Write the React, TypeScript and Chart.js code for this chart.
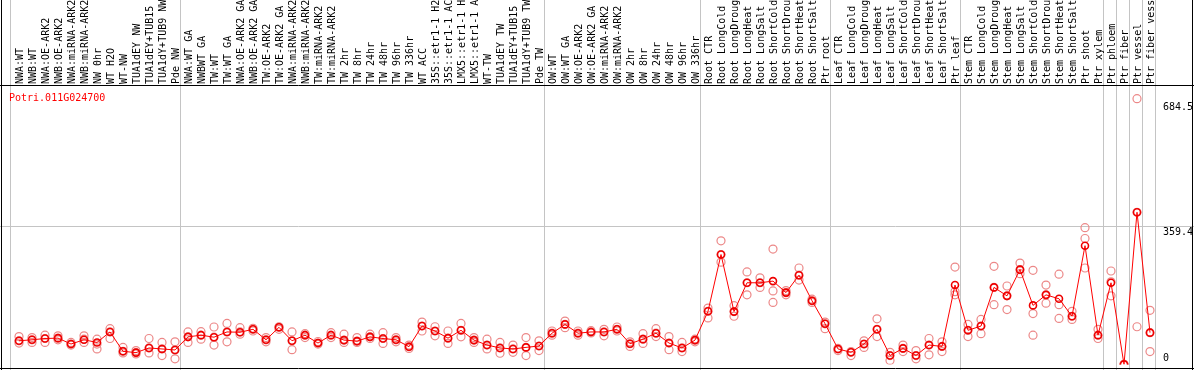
import React, { useEffect, useRef } from "react";
import { Chart, registerables } from "chart.js";

Chart.register(...registerables);

const title = "Potri.011G024700";

const categories = [
  "NWA:WT", "NWB:WT", "NWA:OE-ARK2", "NWB:OE-ARK2", "NWA:miRNA-ARK2", "NWB:miRNA-ARK2", "NW 0hr", "WT H2O", "WT-NW", "TUA1dEY NW", "TUA1dEY+TUB15 NW", "TUA1dY+TUB9 NW", "Pde NW",
  "NWA:WT GA", "NWBWT GA", "TW:WT", "TW:WT GA", "NWA:OE-ARK2 GA", "NWB:OE-ARK2 GA", "TW:OE-ARK2", "TW:OE-ARK2 GA", "NWA:miRNA-ARK2 GA", "NWB:miRNA-ARK2 GA", "TW:miRNA-ARK2", "TW:miRNA-ARK2 GA", "TW 2hr", "TW 8hr", "TW 24hr", "TW 48hr", "TW 96hr", "TW 336hr", "WT ACC", "35S::etr1-1 H2O", "35S::etr1-1 ACC", "LMX5::etr1-1 H2O", "LMX5::etr1-1 ACC", "WT-TW", "TUA1dEY TW", "TUA1dEY+TUB15 TW", "TUA1dY+TUB9 TW", "Pde TW",
  "OW:WT", "OW:WT GA", "OW:OE-ARK2", "OW:OE-ARK2 GA", "OW:miRNA-ARK2", "OW:miRNA-ARK2 GA", "OW 2hr", "OW 8hr", "OW 24hr", "OW 48hr", "OW 96hr", "OW 336hr",
  "Root CTR", "Root LongCold", "Root LongDrought", "Root LongHeat", "Root LongSalt", "Root ShortCold", "Root ShortDrought", "Root ShortHeat", "Root ShortSalt", "Ptr root",
  "Leaf CTR", "Leaf LongCold", "Leaf LongDrought", "Leaf LongHeat", "Leaf LongSalt", "Leaf ShortCold", "Leaf ShortDrought", "Leaf ShortHeat", "Leaf ShortSalt", "Ptr leaf",
  "Stem CTR", "Stem LongCold", "Stem LongDrought", "Stem LongHeat", "Stem LongSalt", "Stem ShortCold", "Stem ShortDrought", "Stem ShortHeat", "Stem ShortSalt", "Ptr shoot", "Ptr xylem",
  "Ptr phloem", "Ptr fiber", "Ptr vessel", "Ptr fiber vessel",
];

const means = [
  61.3, 63.9, 67.2, 68.2, 52.9, 63.9, 57.0, 84.3, 34.0, 30.6, 42.7, 40.1, 37.5,
  71.5, 75.9, 70.7, 84.3, 83.5, 91.2, 63.9, 96.3, 61.3, 75.9, 55.4, 75.9, 63.1, 60.5, 71.5, 67.2, 63.9, 46.0, 99.6, 86.8, 68.2, 88.6, 63.1, 50.3, 42.7, 40.1, 44.2, 47.8,
  81.0, 103.9, 81.0, 84.3, 84.3, 91.2, 53.6, 65.6, 81.0, 55.4, 42.7, 63.1,
  137.9, 285.3, 137.1, 212.0, 212.0, 216.3, 186.4, 231.7, 165.2, 105.7,
  40.1, 31.4, 52.9, 91.2, 23.0, 41.6, 23.0, 50.3, 46.7, 206.1,
  88.6, 99.6, 200.0, 178.0, 246.1, 153.2, 180.6, 170.4, 125.1, 308.3, 75.9,
  212.0, 0, 395.1, 82.5,
];

const repHigh = [
  72.3, 69.7, 75.9, 74.1, 57.0, 74.1, 65.6, 92.7, 44.2, 35.8, 67.2, 57.0, 58.7,
  84.3, 85.0, 97.1, 106.5, 95.3, 93.7, 69.7, 97.8, 84.3, 79.9, 59.5, 82.5, 78.4, 69.7, 78.4, 82.5, 69.7, 50.3, 109.8, 97.8, 86.8, 106.5, 69.7, 65.6, 57.0, 50.3, 69.7, 61.3,
  86.8, 112.4, 86.8, 87.6, 91.2, 97.1, 58.7, 79.9, 92.7, 72.3, 57.0, 65.6,
  146.3, 321.0, 152.5, 240.1, 224.8, 299.6, 191.6, 250.3, 169.3, 109.8,
  41.6, 33.2, 61.3, 118.3, 31.4, 50.3, 35.8, 67.2, 58.7, 252.8,
  103.9, 116.7, 254.6, 203.6, 263.1, 244.4, 206.1, 234.2, 137.9, 355.0, 91.2,
  242.6, 0, 690.0, 140.5,
];

const repMid = [
  61.3, 63.9, 67.2, 68.2, 52.9, 65.6, 52.9, 84.3, 34.0, 30.6, 42.7, 40.1, 37.5,
  71.5, 75.9, 70.7, 84.3, 84.3, 91.2, 63.9, 96.3, 61.3, 75.9, 55.4, 75.9, 63.1, 60.5, 71.5, 67.2, 63.9, 46.0, 99.6, 86.8, 68.2, 88.6, 63.1, 50.3, 42.7, 40.1, 44.2, 47.8,
  81.0, 103.9, 81.0, 84.3, 84.3, 91.2, 53.6, 65.6, 81.0, 55.4, 42.7, 63.1,
  137.9, 285.3, 137.1, 212.0, 212.0, 190.8, 186.4, 231.7, 165.2, 105.5,
  40.1, 31.4, 52.9, 91.2, 23.0, 41.6, 23.0, 50.3, 46.7, 189.0,
  88.6, 99.6, 200.0, 178.0, 246.0, 132.0, 180.6, 155.0, 125.1, 326.9, 75.9,
  214.5, 0, 395.1, 82.5,
];

const repLow = [
  55.4, 57.0, 57.0, 63.9, 50.3, 57.0, 40.1, 67.2, 29.9, 27.3, 29.9, 23.0, 14.6,
  57.0, 65.6, 50.3, 58.7, 78.4, 86.8, 58.7, 91.2, 38.3, 69.7, 52.9, 69.7, 57.0, 57.0, 67.2, 54.4, 58.7, 41.6, 86.8, 74.1, 54.4, 71.5, 57.0, 40.1, 28.9, 31.4, 23.0, 35.8,
  75.9, 95.3, 75.9, 81.7, 74.1, 86.8, 46.7, 54.4, 72.3, 38.3, 33.2, 58.7,
  120.8, 265.6, 125.1, 180.6, 200.0, 160.9, 180.6, 218.9, 160.9, 92.7,
  35.8, 23.0, 44.2, 72.3, 10.2, 33.2, 14.6, 24.8, 33.2, 180.6,
  72.3, 79.9, 155.0, 142.3, 235.7, 75.9, 159.1, 119.3, 116.7, 250.3, 67.2,
  178.0, 0, 97.8, 33.2,
];

// index of the last category of each group (group separators)
const groupEnds = [12, 40, 52, 62, 72, 83, 84, 85, 86, 87];
const yTickValues = [684.5, 359.4, 0];
const yTickLabels = ["684.5", "359.4", "0"];
const gridValues = [359.4];
const yMax = 723;

const FONT = "10px 'DejaVu Sans Mono', monospace";

export default function App() {
  const ref = useRef<HTMLCanvasElement>(null);

  useEffect(() => {
    document.body.style.margin = "0";
    const canvas = ref.current;
    if (!canvas) return;

    const decor = {
      id: "decor",
      beforeDraw(chart: any) {
        const ctx = chart.ctx;
        ctx.save();
        ctx.fillStyle = "#ffffff";
        ctx.fillRect(0, 0, chart.width, chart.height);
        ctx.restore();
      },
      beforeDatasetsDraw(chart: any) {
        const ctx = chart.ctx;
        const xs = chart.scales.x;
        const ys = chart.scales.y;
        const W = chart.width;
        const H = chart.height;
        ctx.save();
        ctx.strokeStyle = "#c4c4c4";
        ctx.lineWidth = 1;
        for (const g of gridValues) {
          const gy = Math.round(ys.getPixelForValue(g)) + 0.5;
          ctx.beginPath();
          ctx.moveTo(0, gy);
          ctx.lineTo(W, gy);
          ctx.stroke();
        }
        const lines = [xs.getPixelForValue(0) - 8.5, ...groupEnds.map((i) => xs.getPixelForValue(i) + 5.5)];
        for (const lx of lines) {
          ctx.beginPath();
          ctx.moveTo(lx, 0);
          ctx.lineTo(lx, H);
          ctx.stroke();
        }
        ctx.restore();
      },
      afterDraw(chart: any) {
        const ctx = chart.ctx;
        const xs = chart.scales.x;
        const ys = chart.scales.y;
        const W = chart.width;
        const H = chart.height;
        ctx.save();
        // black frame lines
        ctx.strokeStyle = "#000000";
        ctx.lineWidth = 1;
        ctx.beginPath();
        ctx.moveTo(1.5, 0);
        ctx.lineTo(1.5, H);
        ctx.moveTo(W - 1.5, 0);
        ctx.lineTo(W - 1.5, H);
        ctx.moveTo(0, 85.5);
        ctx.lineTo(W, 85.5);
        ctx.moveTo(0, H - 1.5);
        ctx.lineTo(W, H - 1.5);
        ctx.stroke();

        // rotated category labels
        ctx.font = FONT;
        ctx.fillStyle = "#000000";
        ctx.textAlign = "left";
        ctx.textBaseline = "alphabetic";
        categories.forEach((c, i) => {
          const px = xs.getPixelForValue(i);
          ctx.save();
          ctx.translate(px, 84);
          ctx.rotate(-Math.PI / 2);
          ctx.fillText(c, 0, 3.7);
          ctx.restore();
        });

        // title
        ctx.fillStyle = "#ff0000";
        ctx.fillText(title, 9, 101);

        // right axis labels
        ctx.fillStyle = "#000000";
        yTickValues.forEach((v, k) => {
          const py = ys.getPixelForValue(v);
          const by = v === 0 ? py - 3 : py + 9;
          ctx.fillText(yTickLabels[k], 1163, by);
        });
        ctx.restore();
      },
    };

    const repStyle = {
      showLine: false,
      borderColor: "#ec8888",
      backgroundColor: "rgba(0,0,0,0)",
      pointRadius: 4,
      pointBorderWidth: 1.2,
      pointBorderColor: "#ec8888",
      pointBackgroundColor: "rgba(0,0,0,0)",
      order: 2,
    };

    const chart = new Chart(canvas, {
      type: "line",
      data: {
        labels: categories,
        datasets: [
          {
            label: "mean",
            data: means,
            borderColor: "#ff0000",
            borderWidth: 1,
            backgroundColor: "rgba(0,0,0,0)",
            pointRadius: 3.5,
            pointBorderWidth: 1.6,
            pointBorderColor: "#ee0000",
            pointBackgroundColor: "rgba(0,0,0,0)",
            tension: 0,
            order: 0,
          },
          { label: "rep1", data: repHigh, ...repStyle },
          { label: "rep2", data: repMid, ...repStyle },
          { label: "rep3", data: repLow, ...repStyle },
        ],
      },
      options: {
        animation: false,
        responsive: false,
        maintainAspectRatio: false,
        devicePixelRatio: 1,
        layout: { padding: { left: 12.5, right: 37.5, top: 86, bottom: 1 } },
        plugins: {
          legend: { display: false },
          tooltip: { enabled: false },
          title: { display: false },
        },
        scales: {
          x: { type: "category", display: false, offset: true },
          y: { type: "linear", display: false, min: 0, max: yMax },
        },
      },
      plugins: [decor],
    });

    return () => chart.destroy();
  }, []);

  return <canvas ref={ref} width={1194} height={370} style={{ display: "block" }} />;
}
